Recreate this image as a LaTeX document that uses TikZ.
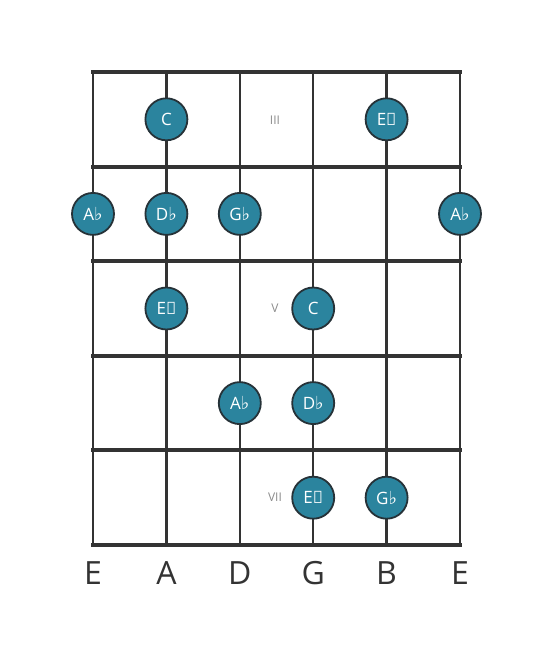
\documentclass[tikz,border=0pt]{standalone}
\usepackage{fontspec}
\setmainfont{Open Sans}
\newfontfamily\flatfont{DejaVu Sans}
\definecolor{notefill}{HTML}{2B849E}
\definecolor{noteline}{HTML}{263238}
\definecolor{gridline}{HTML}{333333}
\newcommand{\fl}{{\flatfont\fontsize{18pt}{18pt}\selectfont ♭}}
\begin{document}
\begin{tikzpicture}[x=1pt,y=-1pt,
  string/.style={draw=gridline,line width=2.4pt},
  fret/.style={draw=gridline,line width=4pt,line cap=rect},
  note/.style={circle,draw=noteline,line width=1.8pt,fill=notefill,minimum size=42pt,inner sep=0pt,text=white,font=\fontsize{17pt}{17pt}\selectfont},
  fretnum/.style={text=gray!90,font=\fontsize{12pt}{12pt}\selectfont},
  strname/.style={text=gridline,font=\fontsize{32pt}{32pt}\selectfont}
  ]

\useasboundingbox (0,0) rectangle (553,656);

% strings and frets
\foreach \x in {93,166.4,239.8,313.2,386.6,460}
  \draw[string] (\x,72) -- (\x,545);
\foreach \y in {72,166.6,261.2,355.8,450.4,545}
  \draw[fret] (93,\y) -- (460,\y);

% fret numbers
\node[fretnum] (fret-iii) at (275,120) {III};
\node[fretnum] (fret-v) at (275,308.5) {V};
\node[fretnum] (fret-vii) at (275,497.5) {VII};

% notes
\node[note] (c-a) at (166.4,119.3) {C};
\node[note] (ebb-b) at (386.6,119.3) {E𝄫};

\node[note] (ab-e) at (93,213.9) {A\fl};
\node[note] (db-a) at (166.4,213.9) {D\fl};
\node[note] (gb-d) at (239.8,213.9) {G\fl};
\node[note] (ab-e2) at (460,213.9) {A\fl};

\node[note] (ebb-a) at (166.4,308.5) {E𝄫};
\node[note] (c-g) at (313.2,308.5) {C};

\node[note] (ab-d) at (239.8,403.1) {A\fl};
\node[note] (db-g) at (313.2,403.1) {D\fl};

\node[note] (ebb-g) at (313.2,497.7) {E𝄫};
\node[note] (gb-b) at (386.6,497.7) {G\fl};

% open strings
\node[strname] (s-e) at (93,573) {E};
\node[strname] (s-a) at (166.4,573) {A};
\node[strname] (s-d) at (239.8,573) {D};
\node[strname] (s-g) at (313.2,573) {G};
\node[strname] (s-b) at (386.6,573) {B};
\node[strname] (s-e2) at (460,573) {E};

\end{tikzpicture}
\end{document}
